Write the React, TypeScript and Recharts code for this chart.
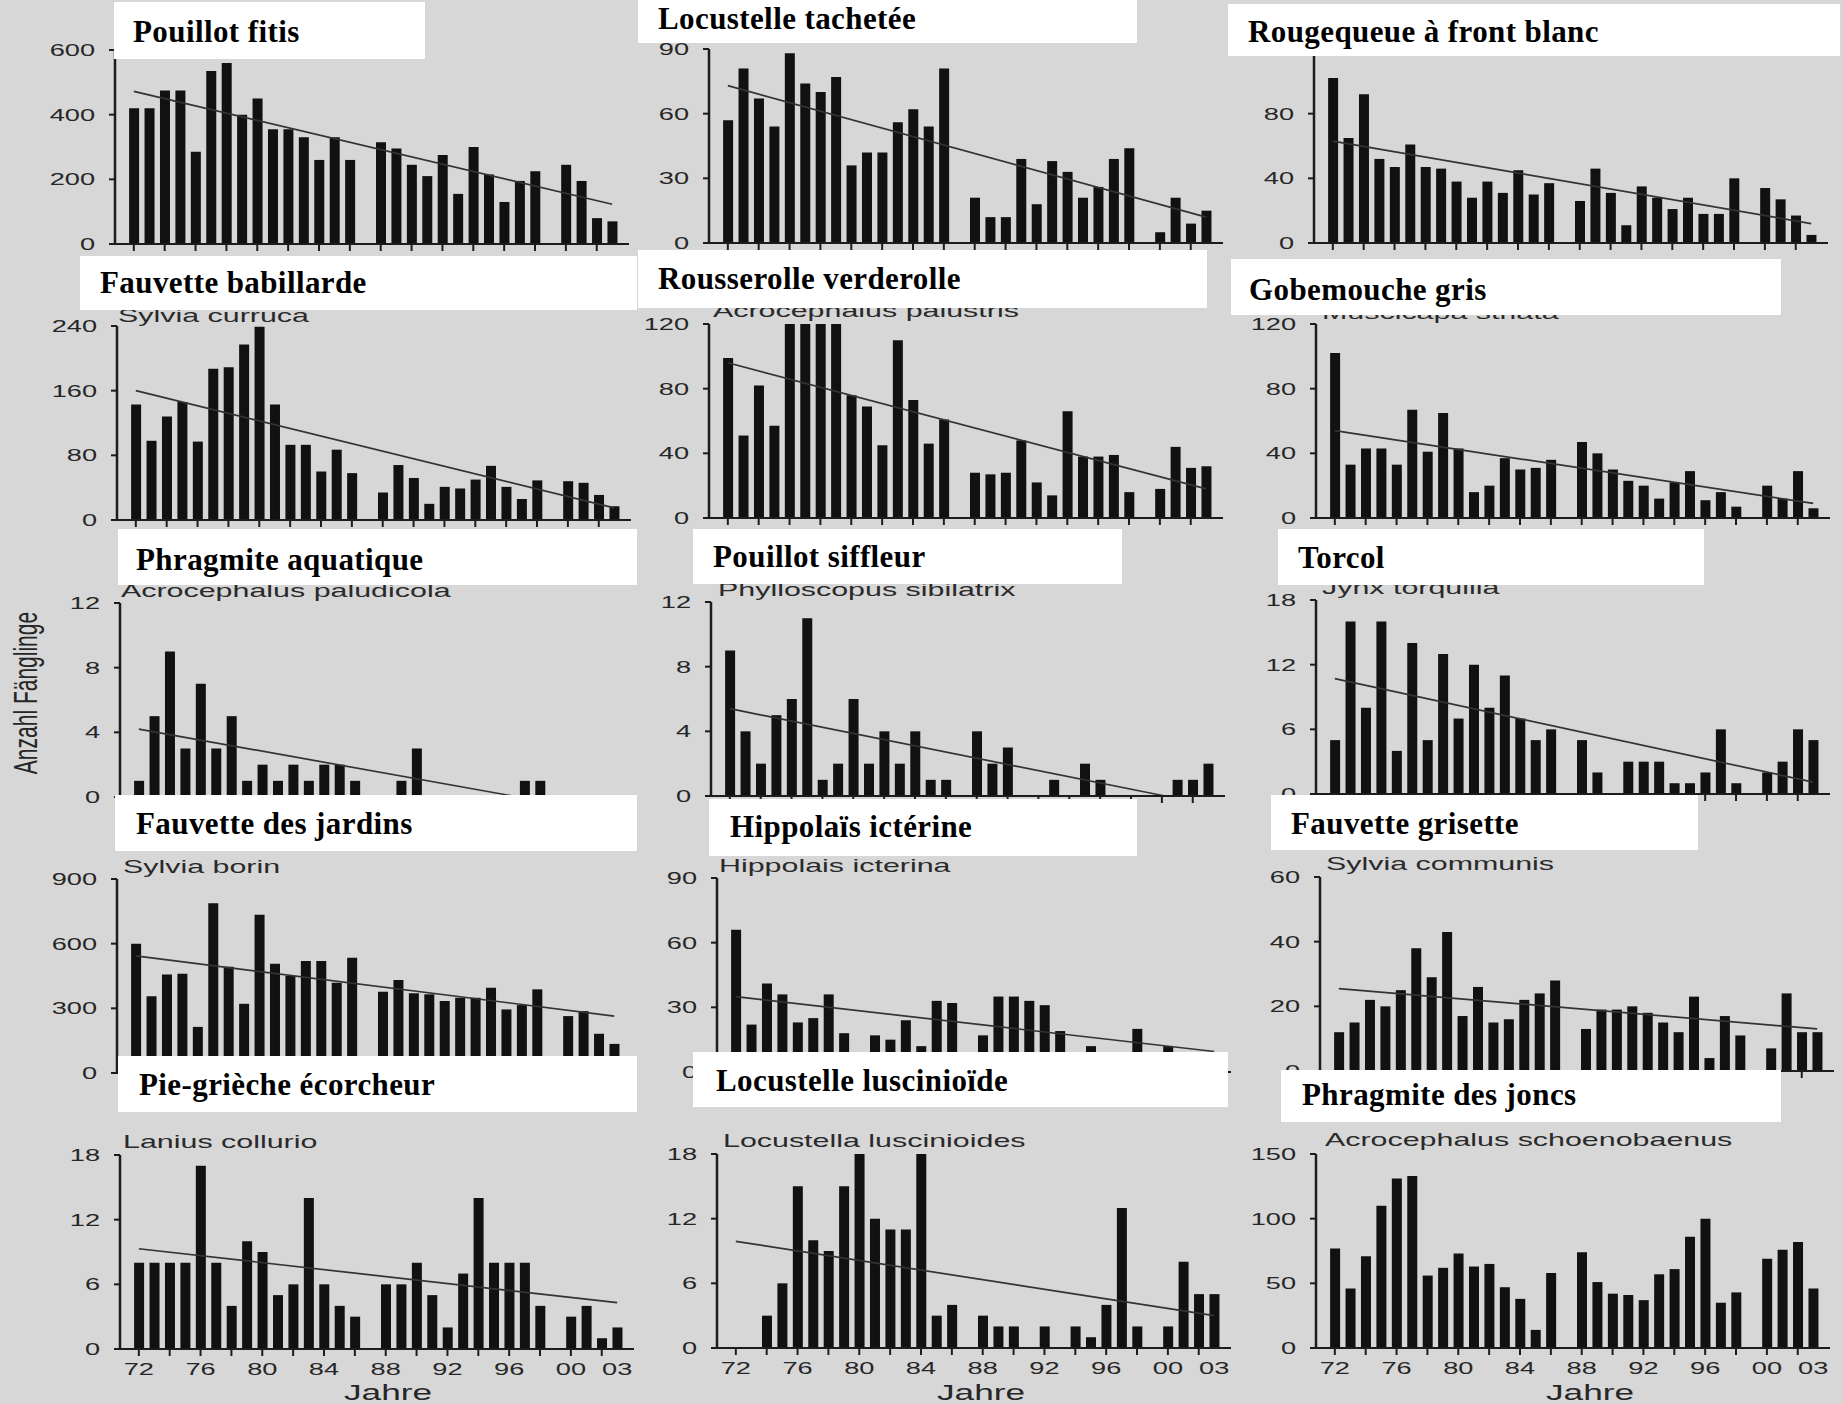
import React from "react";
import { ComposedChart, Bar, XAxis, YAxis, ReferenceLine } from "recharts";

// years 1972 - 2003, written as 72..103
const years = [72, 73, 74, 75, 76, 77, 78, 79, 80, 81, 82, 83, 84, 85, 86, 87, 88, 89, 90, 91, 92, 93, 94, 95, 96, 97, 98, 99, 100, 101, 102, 103];
const tickYears = [72, 74, 76, 78, 80, 82, 84, 86, 88, 90, 92, 94, 96, 98, 100, 102, 103];
const labelYears = [72, 76, 80, 84, 88, 92, 96, 100, 103];

const pouillotFitis = [420, 420, 475, 475, 285, 535, 560, 400, 450, 355, 355, 330, 260, 330, 260, 0, 315, 295, 245, 210, 275, 155, 300, 215, 130, 195, 225, 0, 245, 195, 80, 70];
const locustelleTachetee = [57, 81, 67, 54, 88, 74, 70, 77, 36, 42, 42, 56, 62, 54, 81, 0, 21, 12, 12, 39, 18, 38, 33, 21, 26, 39, 44, 0, 5, 21, 9, 15];
const rougequeue = [102, 65, 92, 52, 47, 61, 47, 46, 38, 28, 38, 31, 45, 30, 37, 0, 26, 46, 31, 11, 35, 28, 21, 28, 18, 18, 40, 0, 34, 27, 17, 5];
const fauvetteBabillarde = [143, 98, 128, 146, 97, 187, 189, 217, 239, 143, 93, 93, 60, 87, 58, 0, 34, 68, 52, 20, 41, 39, 50, 67, 41, 26, 49, 0, 48, 46, 31, 17];
const rousserolle = [99, 51, 82, 57, 120, 120, 120, 120, 76, 69, 45, 110, 73, 46, 61, 0, 28, 27, 28, 48, 22, 14, 66, 38, 38, 39, 16, 0, 18, 44, 31, 32];
const gobemouche = [102, 33, 43, 43, 33, 67, 41, 65, 43, 16, 20, 37, 30, 31, 36, 0, 47, 40, 30, 23, 20, 12, 22, 29, 11, 16, 7, 0, 20, 12, 29, 6];
const phragmiteAquatique = [1, 5, 9, 3, 7, 3, 5, 1, 2, 1, 2, 1, 2, 2, 1, 0, 0, 1, 3, 0, 0, 0, 0, 0, 0, 1, 1, 0, 0, 0, 0, 0];
const pouillotSiffleur = [9, 4, 2, 5, 6, 11, 1, 2, 6, 2, 4, 2, 4, 1, 1, 0, 4, 2, 3, 0, 0, 1, 0, 2, 1, 0, 0, 0, 0, 1, 1, 2];
const torcol = [5, 16, 8, 16, 4, 14, 5, 13, 7, 12, 8, 11, 7, 5, 6, 0, 5, 2, 0, 3, 3, 3, 1, 1, 2, 6, 1, 0, 2, 3, 6, 5];
const fauvetteJardins = [600, 356, 457, 460, 214, 787, 493, 321, 734, 507, 450, 520, 520, 419, 535, 0, 377, 432, 370, 365, 334, 349, 349, 396, 295, 315, 388, 0, 264, 287, 182, 135];
const hippolais = [66, 22, 41, 36, 23, 25, 36, 18, 0, 17, 15, 24, 12, 33, 32, 0, 17, 35, 35, 33, 31, 19, 0, 12, 0, 0, 20, 0, 12, 0, 0, 0];
const fauvetteGrisette = [12, 15, 22, 20, 25, 38, 29, 43, 17, 26, 15, 16, 22, 24, 28, 0, 13, 19, 19, 20, 18, 15, 12, 23, 4, 17, 11, 0, 7, 24, 12, 12];
const piegrieche = [8, 8, 8, 8, 17, 8, 4, 10, 9, 5, 6, 14, 6, 4, 3, 0, 6, 6, 8, 5, 2, 7, 14, 8, 8, 8, 4, 0, 3, 4, 1, 2];
const locustelleLuscinioide = [0, 0, 3, 6, 15, 10, 9, 15, 18, 12, 11, 11, 18, 3, 4, 0, 3, 2, 2, 0, 2, 0, 2, 1, 4, 13, 2, 0, 2, 8, 5, 5];
const phragmiteJoncs = [77, 46, 71, 110, 131, 133, 56, 62, 73, 63, 65, 47, 38, 14, 58, 0, 74, 51, 42, 41, 37, 57, 61, 86, 100, 35, 43, 0, 69, 76, 82, 46];

const titles = [
  "Pouillot fitis", "Locustelle tachetée", "Rougequeue à front blanc",
  "Fauvette babillarde", "Rousserolle verderolle", "Gobemouche gris",
  "Phragmite aquatique", "Pouillot siffleur", "Torcol",
  "Fauvette des jardins", "Hippolaïs ictérine", "Fauvette grisette",
  "Pie-grièche écorcheur", "Locustelle luscinioïde", "Phragmite des joncs",
];
const latinNames = [
  "", "", "",
  "Sylvia curruca", "Acrocephalus palustris", "Muscicapa striata",
  "Acrocephalus paludicola", "Phylloscopus sibilatrix", "Jynx torquilla",
  "Sylvia borin", "Hippolais icterina", "Sylvia communis",
  "Lanius collurio", "Locustella luscinioides", "Acrocephalus schoenobaenus",
];
const series = [
  pouillotFitis, locustelleTachetee, rougequeue,
  fauvetteBabillarde, rousserolle, gobemouche,
  phragmiteAquatique, pouillotSiffleur, torcol,
  fauvetteJardins, hippolais, fauvetteGrisette,
  piegrieche, locustelleLuscinioide, phragmiteJoncs,
];
const yTicks = [
  [0, 200, 400, 600], [0, 30, 60, 90], [0, 40, 80, 120],
  [0, 80, 160, 240], [0, 40, 80, 120], [0, 40, 80, 120],
  [0, 4, 8, 12], [0, 4, 8, 12], [0, 6, 12, 18],
  [0, 300, 600, 900], [0, 30, 60, 90], [0, 20, 40, 60],
  [0, 6, 12, 18], [0, 6, 12, 18], [0, 50, 100, 150],
];
// regression lines (null = none drawn)
const trendStart = [472, 73, 63, 160, 96, 54, 4.2, 5.4, 10.7, 543, 35, 25.5, 9.3, 9.9, null];
const trendEnd = [123, 12, 12, 15, 18, 9, 0, 0, 1.1, 264, 9.5, 13, 4.3, 3, null];
const trendEndYear = [103, 103, 103, 103, 103, 103, 96.6, 100.2, 103, 103, 103, 103, 103, 103, 103];

// layout (page pixels)
const axisX = [115, 709, 1314, 117, 709, 1316, 120, 711, 1316, 117, 717, 1320, 120, 717, 1316];
const zeroY = [244, 243, 243, 520, 518, 518, 797, 796, 794, 1073, 1072, 1071, 1349, 1348, 1348];
const boxes = [
  [114, 2, 311, 57], [638, 0, 499, 43], [1228, 4, 612, 52],
  [80, 256, 557, 54], [638, 250, 569, 58], [1231, 259, 550, 56],
  [118, 529, 519, 56], [693, 529, 429, 55], [1278, 529, 426, 56],
  [115, 795, 522, 56], [709, 799, 428, 57], [1271, 795, 427, 55],
  [118, 1056, 519, 56], [693, 1052, 535, 55], [1281, 1070, 500, 52],
];
const titlePos = [
  [133, 32], [658, 19], [1248, 32],
  [100, 283], [658, 279], [1249, 290],
  [136, 560], [713, 557], [1298, 558],
  [136, 824], [730, 827], [1291, 824],
  [139, 1085], [716, 1081], [1302, 1095],
];
const latinPos = [
  [0, 0], [0, 0], [0, 0],
  [118, 316], [713, 311], [1322, 313],
  [121, 591], [718, 590], [1322, 588],
  [123, 867], [719, 866], [1326, 864],
  [123, 1142], [723, 1141], [1325, 1140],
];

const LEFT = 100;
const TOP = 10;
const PLOT_W = 514;
const PLOT_H = 194;
const CHART_W = LEFT + PLOT_W + 10;
const CHART_H = TOP + PLOT_H + 60;
const INK = "#1c1c1c";
const SANS = "'Liberation Sans', Arial, sans-serif";
const STRETCH = 1.6;

function YTick(props: any) {
  const { x, y, payload } = props;
  return (
    <text
      transform={`translate(${x},${y}) scale(${STRETCH},1)`}
      textAnchor="end"
      dominantBaseline="central"
      fontSize={17}
      fontFamily={SANS}
      fill="#262626"
    >
      {payload.value}
    </text>
  );
}

function makeXTick(showLabels: boolean) {
  return function XTick(props: any) {
    const { x, y, payload } = props;
    const v = payload.value as number;
    const mark = v % 2 === 0;
    const label = showLabels && labelYears.includes(v);
    return (
      <g>
        {mark && <line x1={x} x2={x} y1={y} y2={y + 7} stroke={INK} strokeWidth={2} />}
        {label && (
          <text
            transform={`translate(${x},${y + 20}) scale(${STRETCH},1)`}
            textAnchor="middle"
            dominantBaseline="central"
            fontSize={17}
            fontFamily={SANS}
            fill="#262626"
          >
            {String(v % 100).padStart(2, "0")}
          </text>
        )}
      </g>
    );
  };
}

function Panel({ i }: { i: number }) {
  const values = series[i];
  const data = years.map((y, k) => ({ year: y, v: values[k] }));
  const ticks = yTicks[i];
  const max = ticks[ticks.length - 1];
  const bottomRow = i >= 12;
  const ts = trendStart[i];
  const te = trendEnd[i];
  return (
    <div style={{ position: "absolute", left: axisX[i] - LEFT, top: zeroY[i] - PLOT_H - TOP }}>
      <ComposedChart width={CHART_W} height={CHART_H} data={data} margin={{ top: TOP, right: 10, bottom: 0, left: 0 }}>
        <XAxis
          dataKey="year"
          type="number"
          domain={[70.78, 104.09]}
          allowDataOverflow
          ticks={tickYears}
          interval={0}
          tickSize={0}
          tickMargin={0}
          height={60}
          tick={makeXTick(bottomRow)}
          axisLine={{ stroke: INK, strokeWidth: 2 }}
        />
        <YAxis
          type="number"
          domain={[0, max]}
          allowDataOverflow
          ticks={ticks}
          interval={0}
          width={LEFT}
          tickSize={6}
          tickMargin={14}
          tick={<YTick />}
          tickLine={{ stroke: INK, strokeWidth: 2 }}
          axisLine={{ stroke: INK, strokeWidth: 2.5 }}
        />
        <Bar dataKey="v" fill="#111" barSize={10} isAnimationActive={false} />
        {ts !== null && te !== null && (
          <ReferenceLine
            segment={[{ x: 72, y: ts }, { x: trendEndYear[i], y: te }]}
            stroke="#333"
            strokeWidth={1.7}
            ifOverflow="visible"
          />
        )}
      </ComposedChart>
    </div>
  );
}

export default function App() {
  const idx = titles.map((_, i) => i);
  return (
    <div
      style={{
        position: "absolute",
        left: 0,
        top: 0,
        width: 1843,
        height: 1404,
        background: "#d7d7d7",
        overflow: "hidden",
      }}
    >
      {idx.map((i) => (
        <Panel key={`p${i}`} i={i} />
      ))}

      {/* latin names from the scan, partly hidden under the white boxes */}
      {idx.map((i) =>
        latinNames[i] ? (
          <div
            key={`l${i}`}
            style={{
              position: "absolute",
              left: latinPos[i][0],
              top: latinPos[i][1] - 12,
              height: 24,
              lineHeight: "24px",
              fontFamily: SANS,
              fontSize: 19,
              color: "#2a2a2a",
              whiteSpace: "nowrap",
              transform: `scaleX(${STRETCH})`,
              transformOrigin: "left center",
            }}
          >
            {latinNames[i]}
          </div>
        ) : null
      )}

      {/* white label boxes with the French names */}
      {idx.map((i) => (
        <div
          key={`b${i}`}
          style={{
            position: "absolute",
            left: boxes[i][0],
            top: boxes[i][1],
            width: boxes[i][2],
            height: boxes[i][3],
            background: "#ffffff",
          }}
        />
      ))}
      {idx.map((i) => (
        <div
          key={`t${i}`}
          style={{
            position: "absolute",
            left: titlePos[i][0],
            top: titlePos[i][1] - 18,
            height: 36,
            lineHeight: "36px",
            fontFamily: "'Liberation Serif', 'Times New Roman', serif",
            fontWeight: 700,
            fontSize: 31,
            letterSpacing: 0.4,
            color: "#000",
            whiteSpace: "nowrap",
          }}
        >
          {titles[i]}
        </div>
      ))}

      {/* axis titles */}
      <div
        style={{
          position: "absolute",
          left: 26 - 100,
          top: 693 - 13,
          width: 200,
          height: 26,
          lineHeight: "26px",
          textAlign: "center",
          fontFamily: SANS,
          fontSize: 21,
          color: "#262626",
          transform: `rotate(-90deg) scale(1, ${STRETCH})`,
          whiteSpace: "nowrap",
        }}
      >
        Anzahl Fänglinge
      </div>
      {[388, 981, 1590].map((cx) => (
        <div
          key={`j${cx}`}
          style={{
            position: "absolute",
            left: cx - 60,
            top: 1393 - 14,
            width: 120,
            height: 28,
            lineHeight: "28px",
            textAlign: "center",
            fontFamily: SANS,
            fontSize: 22,
            color: "#262626",
            transform: `scaleX(${STRETCH})`,
          }}
        >
          Jahre
        </div>
      ))}
    </div>
  );
}
